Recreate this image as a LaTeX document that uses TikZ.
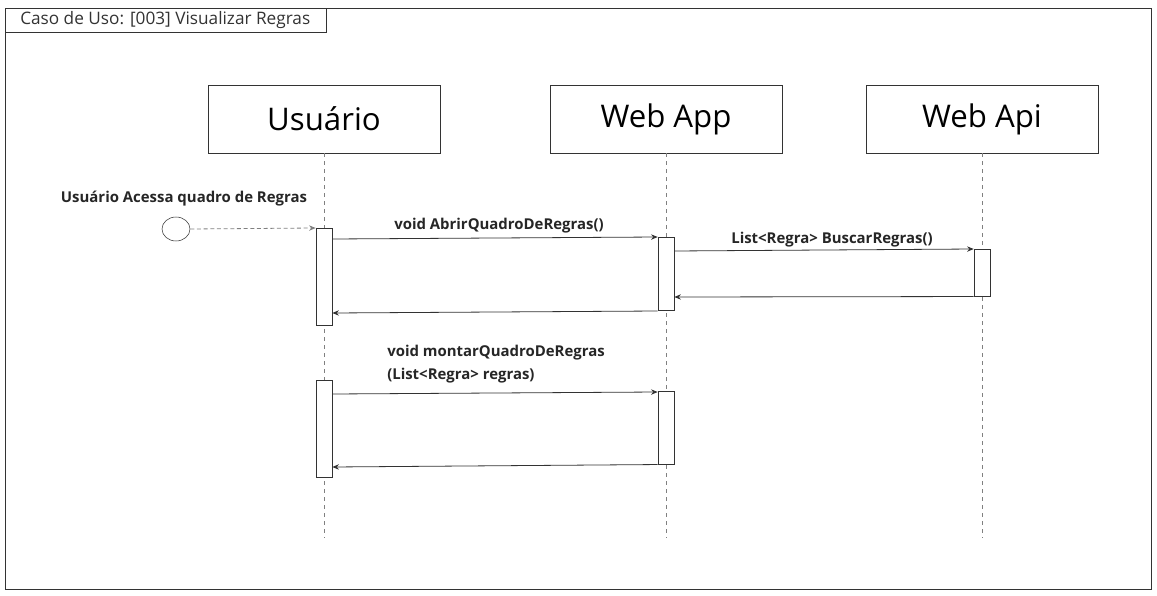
\documentclass[tikz,border=0pt]{standalone}
\usepackage{fontspec}
\setmainfont{Open Sans}
\usetikzlibrary{arrows.meta,shapes.geometric}
\definecolor{ln}{HTML}{333333}
\definecolor{ll}{HTML}{808080}
\tikzset{
  head/.style={draw=ln, fill=white, minimum width=232*0.75pt, minimum height=68*0.75pt, inner sep=0pt, font=\fontsize{23.4}{27}\selectfont},
  act/.style={draw=ln, fill=white, minimum width=16*0.75pt, inner sep=0pt},
  lifeline/.style={draw=ll, dashed, dash pattern=on 3pt off 3pt, line width=0.5pt},
  msg/.style={draw=ln, line width=0.6pt, -{Stealth[length=5pt,width=4pt]}},
  lbl/.style={font=\bfseries\fontsize{11.2}{17}\selectfont, text=black!85},
}
\begin{document}
\begin{tikzpicture}[x=0.75pt,y=-0.75pt]
\useasboundingbox (0,0) rectangle (1157,596);
% frame
\draw[ln, line width=0.6pt] (5,8) rectangle (1151,589);
\node[draw=ln, line width=0.6pt, minimum width=321*0.75pt, minimum height=24*0.75pt, inner sep=0pt, anchor=north west] (title) at (5,8) {};
\node[anchor=west, font=\fontsize{12.9}{15}\selectfont, text=black!80, inner sep=0pt] (titletext) at (20,20) {Caso de Uso: [003] Visualizar Regras};
% heads
\node[head] (u) at (324,119) {Usuário};
\node[head] (wa) at (666,119) {Web App};
\node[head] (wi) at (982,119) {Web Api};
\path (324,120) coordinate (uc) (666,120) coordinate (wac) (982,120) coordinate (wic);
% lifeline ends
\coordinate (ue) at (324,538);
\coordinate (wae) at (666,538);
\coordinate (wie) at (982,538);
\draw[lifeline] (u.south) -- (ue);
\draw[lifeline] (wa.south) -- (wae);
\draw[lifeline] (wi.south) -- (wie);
% activations
\node[act, minimum height=97*0.75pt, anchor=north] (ua1) at (324,228) {};
\node[act, minimum height=97*0.75pt, anchor=north] (ua2) at (324,380) {};
\node[act, minimum height=73*0.75pt, anchor=north] (wa1) at (666,237) {};
\node[act, minimum height=73*0.75pt, anchor=north] (wa2) at (666,391) {};
\node[act, minimum height=47*0.75pt, anchor=north] (wi1) at (982,249) {};
% initial
\node[draw=ln, ellipse, minimum width=28*0.75pt, minimum height=24*0.75pt, inner sep=0pt] (start) at (176,229) {};
\node[lbl] (startlbl) at (184,199) {Usuário Acessa quadro de Regras};
\draw[msg, draw=ll, dashed, dash pattern=on 3pt off 2pt] (start.east) -- (ua1.north west);
% messages
\draw[msg] (ua1.north east |- 0,239) -- (wa1.north west);
\node[lbl] (m1) at (499,226) {void AbrirQuadroDeRegras()};
\draw[msg] (wa1.south west |- 0,311) -- (ua1.east |- 0,313);
\draw[msg] (wa1.east |- 0,251) -- (wi1.north west);
\node[lbl] (m2) at (832,240) {List<Regra> BuscarRegras()};
\draw[msg] (wi1.south west) -- (wa1.east |- 0,297);
\draw[msg] (ua2.east |- 0,394) -- (wa2.west |- 0,392);
\node[lbl, align=left, anchor=north west, inner sep=0pt] (m3) at (387,345) {void montarQuadroDeRegras\\(List<Regra> regras)};
\draw[msg] (wa2.south west) -- (ua2.east |- 0,467);
\end{tikzpicture}
\end{document}
